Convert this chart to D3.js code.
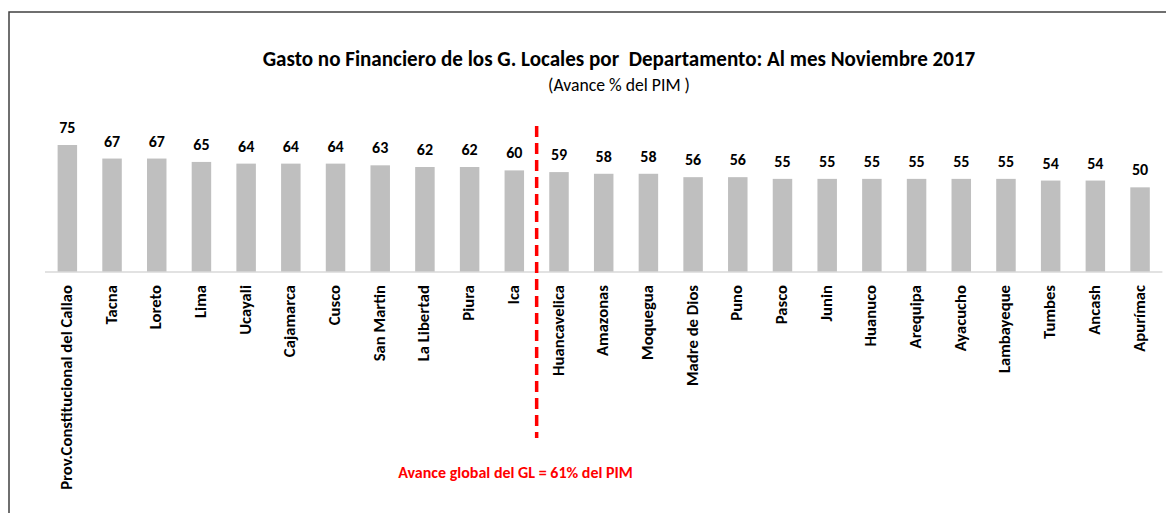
<!doctype html>
<html>
  <head>
    <script src="https://cdn.jsdelivr.net/npm/d3@7/dist/d3.min.js"></script>
    <style>
      body, html {
        margin: 0;
        background: #fff;
      }
      svg {
        display: block;
        font-family: Carlito, Lato, "Open Sans", sans-serif;
      }
      .bar {
        fill: #bfbfbf;
      }
      .base {
        stroke: #d9d9d9;
        stroke-width: 1.5px;
      }
      .val {
        font-weight: bold;
        fill: #000;
        text-anchor: middle;
      }
      .cat {
        font-weight: bold;
        fill: #000;
        text-anchor: end;
      }
    </style>
  </head>
  <body>
    <svg width="1166" height="513"></svg>
    <script>

      var departamentos = ["Prov.Constitucional del Callao", "Tacna", "Loreto", "Lima", "Ucayali",
        "Cajamarca", "Cusco", "San Martin", "La Libertad", "Piura", "Ica", "Huancavelica",
        "Amazonas", "Moquegua", "Madre de Dios", "Puno", "Pasco", "Junin", "Huanuco",
        "Arequipa", "Ayacucho", "Lambayeque", "Tumbes", "Ancash", "Apurímac"];
      var avance = [75, 67, 67, 65, 64, 64, 64, 63, 62, 62, 60, 59,
        58, 58, 56, 56, 55, 55, 55, 55, 55, 55, 54, 54, 50];
      var avanceGlobal = 61;
      var corte = ["Ica", "Huancavelica"];

      var titulo = "Gasto no Financiero de los G. Locales por  Departamento: Al mes Noviembre 2017";
      var subtitulo = "(Avance % del PIM )";
      var nota = "Avance global del GL = " + avanceGlobal + "% del PIM";

      var svg = d3.select("svg");

      // fit a text's font size so it spans the given width
      function fit(sel, w) {
        var fs = parseFloat(sel.style("font-size"));
        var len = sel.node().getComputedTextLength();
        sel.style("font-size", (fs * w / len) + "px");
        return fs * w / len;
      }

      // frame
      svg.append("path")
        .attr("d", "M9,520V12H1175")
        .attr("fill", "none")
        .attr("stroke", "#404040")
        .attr("stroke-width", 1.5);

      var x = d3.scaleBand()
        .domain(departamentos)
        .range([45, 1162.4])
        .paddingInner(0.564)
        .paddingOuter(0.282);

      var y = d3.scaleLinear().domain([0, 75]).range([272, 145]);

      svg.selectAll("rect.bar")
        .data(avance)
        .join("rect")
        .attr("class", "bar")
        .attr("x", (d, i) => x(departamentos[i]))
        .attr("width", x.bandwidth())
        .attr("y", d => y(d))
        .attr("height", d => y(0) - y(d));

      svg.append("line")
        .attr("class", "base")
        .attr("x1", x.range()[0]).attr("x2", x.range()[1])
        .attr("y1", y(0)).attr("y2", y(0));

      svg.selectAll("text.val")
        .data(avance)
        .join("text")
        .attr("class", "val")
        .attr("x", (d, i) => x(departamentos[i]) + x.bandwidth() / 2)
        .attr("y", d => y(d) - 12)
        .style("font-size", "16px")
        .text(d => d);

      var cats = svg.selectAll("text.cat")
        .data(departamentos)
        .join("text")
        .attr("class", "cat")
        .attr("transform", d => "translate(" + (x(d) + x.bandwidth() / 2 + 4.5) + "," + (y(0) + 13) + ") rotate(-90)")
        .style("font-size", "13px")
        .text(d => d);
      // size all labels from the longest one
      var fsCat = fit(cats.filter((d, i) => i === 0), 205);
      cats.style("font-size", fsCat + "px");

      // red dashed divider
      var xc = (x(corte[0]) + x(corte[1]) + x.bandwidth()) / 2;
      svg.append("line")
        .attr("x1", xc).attr("x2", xc)
        .attr("y1", 126).attr("y2", 438)
        .attr("stroke", "#ff0000")
        .attr("stroke-width", 3.5)
        .attr("stroke-dasharray", "11,6");

      var t = svg.append("text")
        .attr("x", 619).attr("y", 66)
        .attr("text-anchor", "middle")
        .style("font-weight", "bold")
        .style("font-size", "19px")
        .style("white-space", "pre")
        .text(titulo);
      fit(t, 713);

      var s = svg.append("text")
        .attr("x", 619).attr("y", 91)
        .attr("text-anchor", "middle")
        .style("font-size", "15px")
        .style("white-space", "pre")
        .text(subtitulo);
      fit(s, 142);

      var n = svg.append("text")
        .attr("x", 515.5).attr("y", 478)
        .attr("text-anchor", "middle")
        .attr("fill", "#ff0000")
        .style("font-weight", "bold")
        .style("font-size", "13px")
        .text(nota);
      fit(n, 235);

    </script>
  </body>
</html>
